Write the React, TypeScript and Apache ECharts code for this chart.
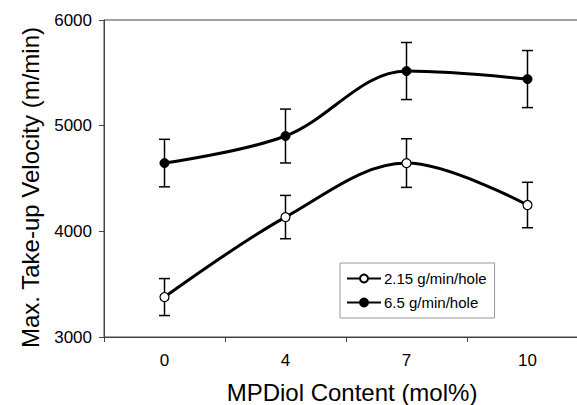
import React, { useEffect, useRef } from "react";
import * as echarts from "echarts";

const categories = ["0", "4", "7", "10"];
const seriesNames = ["2.15 g/min/hole", "6.5 g/min/hole"];
const lowValues = [3378, 4135, 4646, 4249];
const lowErrors = [175, 205, 230, 215];
const highValues = [4646, 4902, 5517, 5441];
const highErrors = [225, 255, 270, 270];
const yTicks = { min: 3000, max: 6000, interval: 1000 };

const FONT = "'Liberation Sans', Arial, Helvetica, sans-serif";

function errorData(vals: number[], errs: number[]) {
  return vals.map((v, i) => [i, v - errs[i], v + errs[i]]);
}

function errorRender(params: any, api: any) {
  const x = api.value(0);
  const lo = api.coord([x, api.value(1)]);
  const hi = api.coord([x, api.value(2)]);
  const hw = 5.5;
  const style = { stroke: "#000", lineWidth: 1.5 };
  return {
    type: "group",
    children: [
      { type: "line", shape: { x1: lo[0], y1: lo[1], x2: hi[0], y2: hi[1] }, style },
      { type: "line", shape: { x1: hi[0] - hw, y1: hi[1], x2: hi[0] + hw, y2: hi[1] }, style },
      { type: "line", shape: { x1: lo[0] - hw, y1: lo[1], x2: lo[0] + hw, y2: lo[1] }, style },
    ],
  };
}

export default function App() {
  const ref = useRef<HTMLDivElement>(null);
  useEffect(() => {
    if (!ref.current) return;
    const chart = echarts.init(ref.current, null, { renderer: "svg" });
    chart.setOption({
      animation: false,
      backgroundColor: "#fff",
      textStyle: { fontFamily: FONT, color: "#000" },
      grid: {
        left: 104,
        top: 20,
        bottom: 68,
        right: -11,
        outerBoundsMode: "none",
        containLabel: false,
        show: true,
        borderColor: "#444",
        borderWidth: 1,
      },
      legend: {
        orient: "vertical",
        left: 340,
        top: 263,
        itemWidth: 34,
        itemHeight: 10,
        itemGap: 9,
        padding: [8, 8, 8, 6],
        borderColor: "#999",
        borderWidth: 1,
        textStyle: { fontSize: 15, fontFamily: FONT, color: "#000", padding: [0, 0, 0, -2] },
        data: seriesNames,
      },
      xAxis: {
        type: "category",
        data: categories,
        boundaryGap: true,
        name: "MPDiol Content (mol%)",
        nameLocation: "middle",
        nameGap: 44,
        nameTextStyle: {
          fontSize: 24,
          lineHeight: 22,
          fontFamily: FONT,
          color: "#000",
          padding: [0, 0, 0, 12],
        },
        axisLine: { lineStyle: { color: "#444", width: 1 } },
        axisTick: { show: true, length: 5, interval: 0, lineStyle: { color: "#444" } },
        axisLabel: { fontSize: 17, margin: 15, color: "#000", fontFamily: FONT },
        splitLine: { show: false },
      },
      yAxis: {
        type: "value",
        min: yTicks.min,
        max: yTicks.max,
        interval: yTicks.interval,
        name: "Max. Take-up Velocity (m/min)",
        nameLocation: "middle",
        nameGap: 62,
        nameTextStyle: { fontSize: 24, fontFamily: FONT, color: "#000", padding: [0, 18, 0, 0] },
        axisLine: { show: true, lineStyle: { color: "#444", width: 1 } },
        axisTick: { show: true, length: 5, lineStyle: { color: "#444" } },
        axisLabel: {
          fontSize: 17,
          margin: 12,
          color: "#000",
          fontFamily: FONT,
          formatter: (v: number) => String(v),
        },
        splitLine: { show: false },
      },
      series: [
        {
          type: "custom",
          name: "err-low",
          renderItem: errorRender,
          data: errorData(lowValues, lowErrors),
          z: 1,
          silent: true,
        },
        {
          type: "custom",
          name: "err-high",
          renderItem: errorRender,
          data: errorData(highValues, highErrors),
          z: 1,
          silent: true,
        },
        {
          type: "line",
          name: seriesNames[0],
          data: lowValues,
          smooth: 0.35,
          symbol: "circle",
          symbolSize: 9,
          lineStyle: { color: "#000", width: 3 },
          itemStyle: { color: "#fff", borderColor: "#000", borderWidth: 1.2 },
          z: 3,
        },
        {
          type: "line",
          name: seriesNames[1],
          data: highValues,
          smooth: 0.35,
          symbol: "circle",
          symbolSize: 9,
          lineStyle: { color: "#000", width: 3 },
          itemStyle: { color: "#000", borderColor: "#000", borderWidth: 1 },
          z: 3,
        },
      ],
    });
    return () => chart.dispose();
  }, []);
  return (
    <div
      ref={ref}
      style={{ position: "fixed", left: 0, top: 0, width: 577, height: 405 }}
    />
  );
}
